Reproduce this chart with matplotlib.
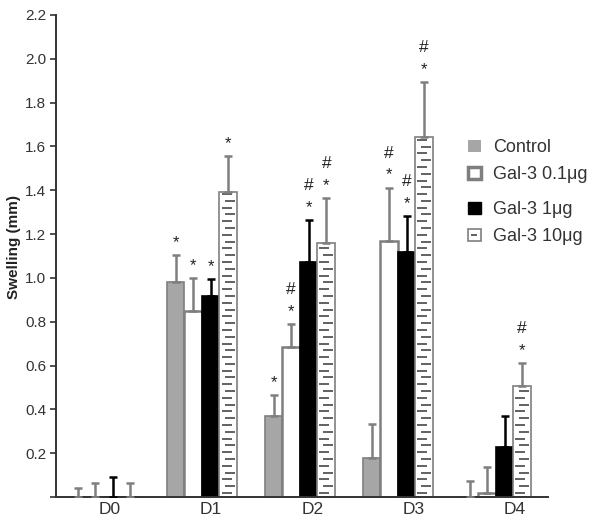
import matplotlib
matplotlib.use('Agg')
import matplotlib.pyplot as plt
import numpy as np
from matplotlib.patches import Patch
from matplotlib.lines import Line2D
from matplotlib.legend_handler import HandlerTuple

plt.rcParams['font.family'] = ['Liberation Sans', 'DejaVu Sans']

######################
# data (mean and upper SEM, mm)
days = ['D0', 'D1', 'D2', 'D3', 'D4']
names = ['Control', 'Gal-3 0.1μg', 'Gal-3 1μg', 'Gal-3 10μg']

control = [0.0, 0.98, 0.37, 0.18, 0.0]
control_sem = [0.042, 0.125, 0.096, 0.153, 0.075]
gal_01 = [0.0, 0.85, 0.686, 1.169, 0.02]
gal_01_sem = [0.064, 0.15, 0.104, 0.243, 0.118]
gal_1 = [0.0, 0.918, 1.074, 1.116, 0.23]
gal_1_sem = [0.093, 0.077, 0.191, 0.167, 0.14]
gal_10 = [0.0, 1.394, 1.161, 1.645, 0.508]
gal_10_sem = [0.064, 0.163, 0.204, 0.247, 0.102]

# significance marks ('*' vs day 0, '#' vs control)
control_sig = ['', '*', '*', '', '']
gal_01_sig = ['', '*', '#*', '#*', '']
gal_1_sig = ['', '*', '#*', '#*', '']
gal_10_sig = ['', '*', '#*', '#*', '#*']

yticks = [0.0, 0.2, 0.4, 0.6, 0.8, 1.0, 1.2, 1.4, 1.6, 1.8, 2.0, 2.2]

######################
means = [control, gal_01, gal_1, gal_10]
sems = [control_sem, gal_01_sem, gal_1_sem, gal_10_sem]
sigs = [control_sig, gal_01_sig, gal_1_sig, gal_10_sig]

face = ['#a6a6a6', 'white', 'black', 'white']
edge = ['#7f7f7f', '#7f7f7f', 'black', '#7f7f7f']
ecol = ['#7f7f7f', '#7f7f7f', 'black', '#7f7f7f']
axis_col = '#333333'

fig = plt.figure(figsize=(6, 5.26), dpi=100)
ax = fig.add_axes([0.0933, 0.0551, 0.8197, 0.9164])

x = np.arange(len(days))
w = 0.179
offs = (np.arange(4) - 1.5) * w

for k in range(4):
    xs = x + offs[k]
    vals = np.array(means[k])
    err = np.array(sems[k])
    ax.bar(xs, vals, width=w, color=face[k], edgecolor=edge[k],
           linewidth=1.8 if k == 1 else 1.2, zorder=2)
    ax.errorbar(xs, vals, yerr=[np.zeros(len(vals)), err], fmt='none',
                ecolor=ecol[k], elinewidth=1.8, capsize=3.2, capthick=1.8, zorder=3)
    # significance marks
    for i in range(len(days)):
        s = sigs[k][i]
        if s == '':
            continue
        star_y = vals[i] + err[i] + 0.082
        ax.text(xs[i], star_y - 0.045, '*', ha='center', va='baseline',
                fontsize=12, color='#222222', zorder=4)
        if '#' in s:
            ax.text(xs[i], star_y + 0.085 - 0.03, '#', ha='center', va='baseline',
                    fontsize=12.5, color='#222222', zorder=4)

# short dash pattern inside the 10ug bars
step = 0.031
for i in range(len(days)):
    h = gal_10[i]
    if h <= 0:
        continue
    ys = np.arange(step * 0.6, h - step * 0.3, step)
    sh = np.where(np.arange(len(ys)) % 2 == 0, -0.1, 0.1) * w
    ax.plot(x[i] + offs[3] + sh, ys, ls='none', marker='_', ms=6.5,
            mew=1.3, color='#555555', zorder=2.5)

ax.set_xlim(-0.49, 4.53)
ax.set_ylim(0, 2.2)
ax.set_yticks(yticks)
ax.set_yticklabels(['' if t == 0 else '%.1f' % t for t in yticks])
ax.tick_params(axis='y', direction='out', length=4, width=1.2, colors=axis_col,
               labelsize=11, labelcolor='#333333', pad=3)
ax.set_xticks([])
for i, d in enumerate(days):
    ax.text(i * 1.033 + 0.06, -0.025, d, ha='center', va='top', fontsize=12.5,
            color='#333333', transform=ax.transData)

ax.spines['top'].set_visible(False)
ax.spines['right'].set_visible(False)
ax.spines['left'].set_color(axis_col)
ax.spines['bottom'].set_color(axis_col)
ax.spines['left'].set_linewidth(1.4)
ax.spines['bottom'].set_linewidth(1.4)

fig.text(0.024, 0.53, 'Swelling (mm)', rotation=90, ha='center', va='center',
         fontsize=11, fontweight='bold', color='#222222')

# legend, in two blocks like the original
h_ctrl = Patch(facecolor=face[0], edgecolor='none')
h_01 = Patch(facecolor='white', edgecolor='#7f7f7f', linewidth=2.5)
h_1 = Patch(facecolor='black', edgecolor='black')
h_10 = (Patch(facecolor='white', edgecolor='#7f7f7f', linewidth=1.2),
        Line2D([], [], ls='none', marker='_', ms=5, mew=1.3, color='#555555'))

leg_kw = dict(frameon=False, fontsize=13, handlelength=0.7, handleheight=0.7,
              handletextpad=0.7, labelspacing=0.55, borderpad=0, borderaxespad=0,
              loc='upper left', bbox_transform=fig.transFigure,
              handler_map={tuple: HandlerTuple(ndivide=1)})
leg1 = ax.legend([h_ctrl, h_01], names[:2], bbox_to_anchor=(0.78, 0.735), **leg_kw)
for t in leg1.get_texts():
    t.set_color('#333333')
ax.add_artist(leg1)
leg2 = ax.legend([h_1, h_10], names[2:], bbox_to_anchor=(0.78, 0.617), **leg_kw)
for t in leg2.get_texts():
    t.set_color('#333333')

plt.savefig('out.png', dpi=100)
